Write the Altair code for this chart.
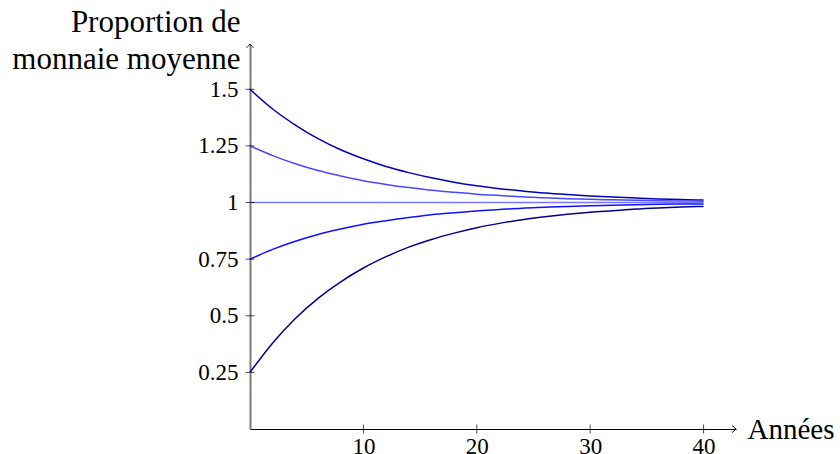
import altair as alt
import pandas as pd

years = [0, 2, 4, 6, 8, 10, 12, 14, 16, 18, 20, 22, 24, 26, 28, 30, 32, 34, 36, 38, 40]

# Values (starting at 1.5, 1.25, 1, 0.75, 0.25)
s150 = [1.5, 1.413, 1.342, 1.282, 1.233, 1.193, 1.159, 1.132, 1.109, 1.090, 1.074,
        1.061, 1.051, 1.042, 1.035, 1.029, 1.024, 1.020, 1.016, 1.013, 1.011]
s125 = [1.25, 1.207, 1.171, 1.141, 1.117, 1.096, 1.080, 1.066, 1.054, 1.045, 1.037,
        1.031, 1.025, 1.021, 1.017, 1.014, 1.012, 1.010, 1.008, 1.007, 1.006]
s100 = [1.0] * 21
s075 = [0.75, 0.793, 0.829, 0.859, 0.883, 0.904, 0.920, 0.934, 0.946, 0.955, 0.963,
        0.969, 0.975, 0.979, 0.983, 0.986, 0.988, 0.990, 0.992, 0.993, 0.994]
s025 = [0.25, 0.380, 0.488, 0.577, 0.650, 0.711, 0.761, 0.803, 0.837, 0.865, 0.889,
        0.908, 0.924, 0.937, 0.948, 0.957, 0.964, 0.971, 0.976, 0.980, 0.983]

series_names = ["1.5", "1.25", "1", "0.75", "0.25"]
series_values = [s150, s125, s100, s075, s025]
series_colors = ["#0000b8", "#4848ff", "#7777ff", "#1010ff", "#00008c"]

x_ticks = [10, 20, 30, 40]
y_ticks = [0.25, 0.5, 0.75, 1, 1.25, 1.5]

x_max = 42.86
y_max = 1.70

FONT = "Liberation Serif"

rows = []
for name, vals in zip(series_names, series_values):
    for t, v in zip(years, vals):
        rows.append({"annee": t, "valeur": v, "serie": name})
df = pd.DataFrame(rows)

xscale = alt.Scale(domain=[0, x_max], nice=False, zero=False)
yscale = alt.Scale(domain=[0, y_max], nice=False, zero=False)

lines = alt.Chart(df).mark_line(strokeWidth=1.5, interpolate="monotone").encode(
    x=alt.X("annee:Q", scale=xscale,
            axis=alt.Axis(values=x_ticks, grid=False, ticks=False, tickSize=0,
                          domainColor="black", domainWidth=1,
                          labelFont=FONT, labelFontSize=23, labelColor="black",
                          labelPadding=6, labelFlush=False,
                          title="Années", titleFont=FONT, titleFontSize=29,
                          titleFontWeight="normal", titleColor="black",
                          titleAlign="left", titleBaseline="alphabetic",
                          titleX=497, titleY=9)),
    y=alt.Y("valeur:Q", scale=yscale,
            axis=alt.Axis(values=y_ticks, grid=False, ticks=False, tickSize=0,
                          domainColor="#7a7a7a", domainWidth=2,
                          labelFont=FONT, labelFontSize=23, labelColor="black",
                          labelPadding=12, labelFlush=False,
                          labelExpr="'' + datum.value",
                          title=["Proportion de", "monnaie moyenne"],
                          titleFont=FONT, titleFontSize=31,
                          titleFontWeight="normal", titleColor="black",
                          titleAngle=0, titleAlign="right",
                          titleBaseline="alphabetic", titleLineHeight=37,
                          titleX=-10, titleY=-13)),
    color=alt.Color("serie:N", sort=series_names,
                    scale=alt.Scale(domain=series_names, range=series_colors),
                    legend=None),
    detail="serie:N",
)

ytick_df = pd.DataFrame({"v": y_ticks, "z": [0] * len(y_ticks)})
xtick_df = pd.DataFrame({"v": x_ticks, "z": [0] * len(x_ticks)})

yticks = alt.Chart(ytick_df).mark_tick(orient="horizontal", size=9, thickness=1,
                                       color="black").encode(
    x=alt.X("z:Q", scale=xscale),
    y=alt.Y("v:Q", scale=yscale),
)
xticks = alt.Chart(xtick_df).mark_tick(orient="vertical", size=9, thickness=1,
                                       color="black").encode(
    x=alt.X("v:Q", scale=xscale),
    y=alt.Y("z:Q", scale=yscale),
)

x_arrow = alt.Chart(pd.DataFrame({"x": [x_max], "y": [0]})).mark_point(
    shape="M -1.1 -1 L 0 0 L -1.1 1", size=49, filled=False, stroke="black",
    strokeWidth=1, opacity=1).encode(
    x=alt.X("x:Q", scale=xscale), y=alt.Y("y:Q", scale=yscale))
y_arrow = alt.Chart(pd.DataFrame({"x": [0], "y": [y_max]})).mark_point(
    shape="M -1 1.1 L 0 0 L 1 1.1", size=49, filled=False, stroke="#333333",
    strokeWidth=1, opacity=1).encode(
    x=alt.X("x:Q", scale=xscale), y=alt.Y("y:Q", scale=yscale))

chart = alt.layer(lines, yticks, xticks, x_arrow, y_arrow).properties(
    width=486, height=385,
    background="white",
    autosize=alt.AutoSizeParams(type="none"),
    padding={"left": 250, "top": 44, "right": 104, "bottom": 25},
).configure_view(strokeWidth=0, stroke="transparent")

chart.save("out.html", embed_options={"renderer": "svg", "actions": False})
